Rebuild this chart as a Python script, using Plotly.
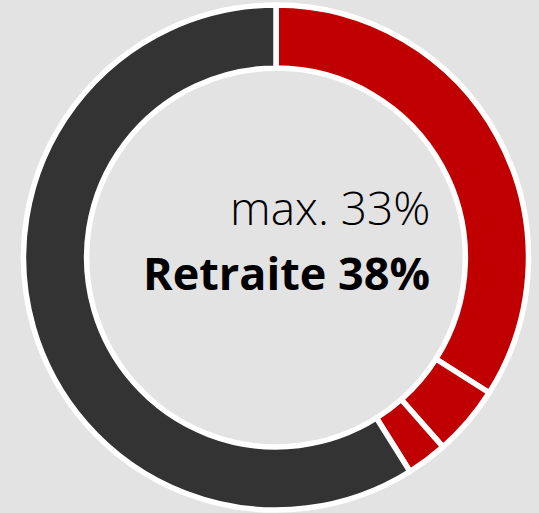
import plotly.graph_objects as go

labels = ["Retraite max.", "Retraite 2", "Retraite 3", "Autres"]
values = [34.0, 4.5, 2.6, 58.9]
colors = ["#c00000", "#c00000", "#c00000", "#333333"]

line1 = "max. 33%"
line2 = "Retraite 38%"

fig = go.Figure(
    go.Pie(
        labels=labels,
        values=values,
        hole=0.75,
        sort=False,
        direction="clockwise",
        rotation=0,
        marker=dict(colors=colors, line=dict(color="white", width=5.5)),
        textinfo="none",
        hoverinfo="skip",
        showlegend=False,
    )
)

fig.update_layout(
    width=539,
    height=513,
    margin=dict(l=23, r=10, t=5, b=3),
    paper_bgcolor="#e3e3e3",
    plot_bgcolor="#e3e3e3",
    annotations=[
        dict(text=line1, x=0.8075, y=0.600, xref="paper", yref="paper",
             xanchor="right", yanchor="middle", showarrow=False,
             font=dict(family="Open Sans", size=46, color="#000000", weight=300)),
        dict(text="<b>" + line2 + "</b>", x=0.8075, y=0.471, xref="paper", yref="paper",
             xanchor="right", yanchor="middle", showarrow=False,
             font=dict(family="Open Sans", size=45, color="#000000")),
    ],
)

fig.write_html(
    "out.html",
    config={"displayModeBar": False},
    post_script="document.body.style.margin='0';document.body.style.background='#e3e3e3';",
)
